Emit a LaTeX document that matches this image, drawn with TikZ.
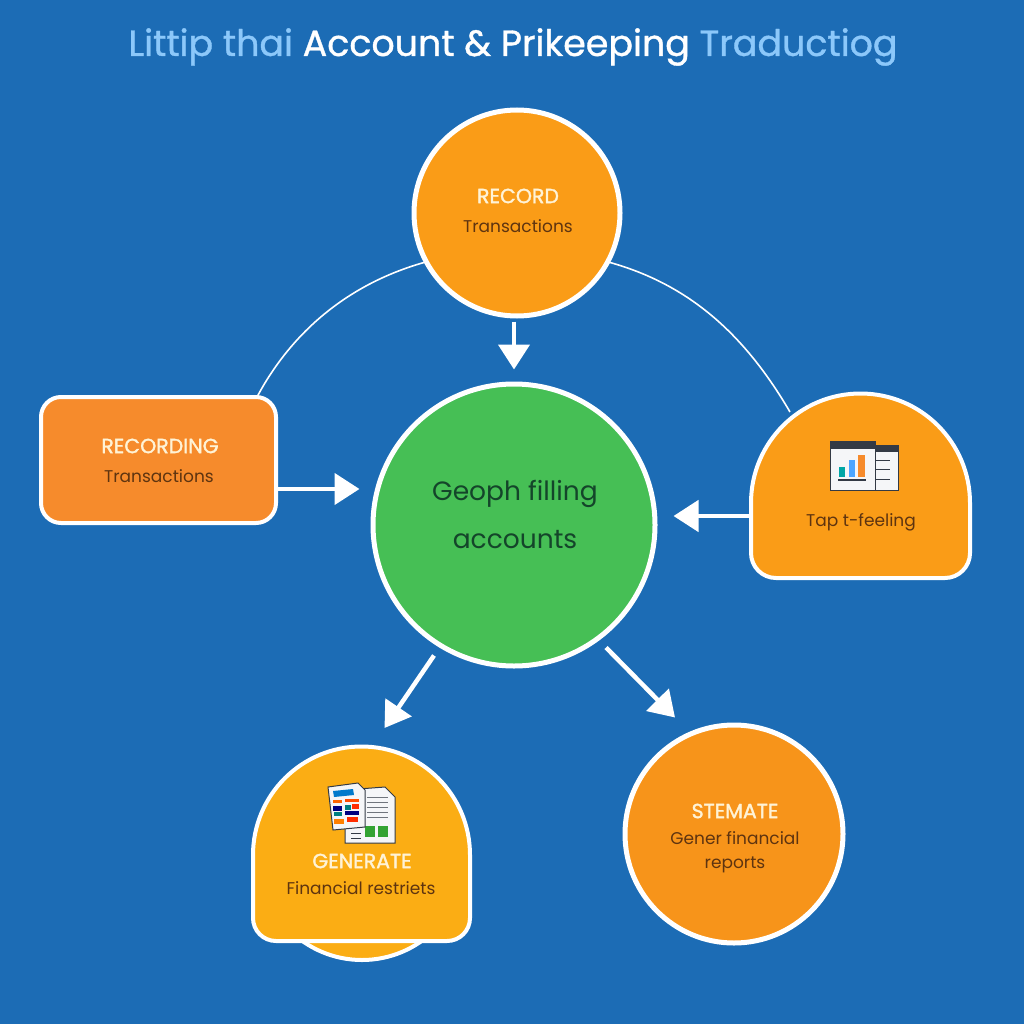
\documentclass[tikz,border=0pt]{standalone}
\usepackage{fontspec}
\setmainfont{Poppins}
\newfontfamily\boldish[FakeBold=1.6]{Poppins}
\newfontfamily\halfbold[FakeBold=1]{Poppins}
\usetikzlibrary{arrows.meta,calc}
\definecolor{bgblue}{HTML}{1C6CB5}
\definecolor{titlelight}{HTML}{8CC8FA}
\definecolor{orangeA}{HTML}{FA9C17}
\definecolor{orangeB}{HTML}{F68B2C}
\definecolor{orangeC}{HTML}{F7941A}
\definecolor{amber}{HTML}{FBAD14}
\definecolor{hubgreen}{HTML}{46BF55}
\definecolor{subtext}{HTML}{5E3410}
\definecolor{headtext}{HTML}{FFF3D6}
\definecolor{hubtext}{HTML}{14452A}
\definecolor{iconDark}{HTML}{333A45}
\definecolor{iconPaper}{HTML}{F5F6F8}
\tikzset{
  ring/.style={circle,draw=white,line width=5pt,inner sep=0pt},
  shapeline/.style={draw=white,line width=4pt,line join=round},
  thin link/.style={draw=white,line width=1.6pt},
  flow/.style={draw=white,line width=4.5pt,-{Triangle[width=31pt,length=25pt]}},
  ghost/.style={inner sep=0pt,outer sep=0pt,draw=none},
  head/.style={font=\boldish\fontsize{20.5}{22}\selectfont,text=headtext},
  sub/.style={font=\fontsize{17}{20}\selectfont,text=subtext,align=center},
}
\begin{document}
\begin{tikzpicture}[x=1pt,y=-1pt]
\useasboundingbox (0,0) rectangle (1024,1024);
\fill[bgblue] (0,0) rectangle (1024,1024);
% title
\node (title) at (513,47) {\halfbold\fontsize{36.4}{44}\selectfont\textcolor{titlelight}{Littip thai} \textcolor{white}{Account \& Prikeeping} \textcolor{titlelight}{Traductiog}};
% main nodes
\node[ring,fill=orangeA,minimum size=206pt] (record) at (517,213) {};
\node[ring,fill=hubgreen,minimum size=282pt] (hub) at (514,525) {};
\node[ghost,minimum width=235pt,minimum height=126pt] (left) at (158.5,460) {};
\node[ghost,minimum width=219pt,minimum height=185pt] (tap) at (860.5,485.5) {};
\node[ghost,minimum width=217pt,minimum height=213pt] (gen) at (361.5,853.5) {};
\node[ring,fill=orangeC,minimum size=218pt] (state) at (734,834) {};
\draw[thin link] (record.208) .. controls (345,285) and (290,335) .. ($(left.north east)+(-19,0)$);
\draw[thin link] (record.-28) .. controls (690,285) and (745,335) .. ($(tap.north west)+(39,19)$);
% shapes
\draw[shapeline,fill=orangeB,rounded corners=20pt] (left.north west) rectangle (left.south east);
\draw[shapeline,fill=orangeA] (751,503) arc[start angle=180,end angle=360,radius=109.5] -- (970,553) arc[start angle=0,end angle=90,radius=25] -- (776,578) arc[start angle=90,end angle=180,radius=25] -- cycle;
\draw[shapeline,fill=amber] (362,857) circle[radius=103];
\draw[shapeline,fill=amber] (253,855) arc[start angle=180,end angle=360,radius=108.5] -- (470,918) arc[start angle=0,end angle=90,radius=23] -- (276,941) arc[start angle=90,end angle=180,radius=23] -- cycle;
% arrows
\draw[flow] (record.south) ++(-3,3) -- ($(hub.north)+(0,-12)$);
\draw[flow] ($(left.east)+(1,29)$) -- ($(hub.west)+(-11,-36)$);
\draw[flow] ($(tap.west)+(-1,30.5)$) -- ($(hub.east)+(16,-9)$);
\draw[flow] ($(hub.south)+(-80,-13)$) -- ($(gen.north)+(23,-19)$);
\draw[flow] ($(hub.south)+(92,-21)$) -- ($(state.north)+(-59,-5)$);
% texts
\node[head] (recordhead) at (518,196) {RECORD};
\node[sub] (recordsub) at (518,226) {Transactions};
\node[head] (lefthead) at (160,446) {RECORDING};
\node[sub] (leftsub) at (159,476) {Transactions};
\node[font=\fontsize{26.5}{48}\selectfont,text=hubtext,align=center] (hubtxt) at (515,514) {Geoph filling\\accounts};
\node[sub] (tapsub) at (861,522) {Tap t-feeling};
\node[head] (genhead) at (362,861) {GENERATE};
\node[sub] (gensub) at (361,888) {Financial restriets};
\node[head] (statehead) at (735,811) {STEMATE};
\node[sub,font=\fontsize{17}{24}\selectfont] (statesub) at (735,852) {Gener financial\\reports};
% icon: report windows
\draw[iconDark,fill=iconPaper,line width=1pt] (872,445) rectangle (898,490);
\fill[iconDark] (872,445) rectangle (898,452);
\foreach \yy in {460,469,479} \draw[iconDark,line width=1pt] (876,\yy) -- (890,\yy);
\draw[iconDark,fill=iconPaper,line width=1pt] (830,441) rectangle (875,490);
\fill[iconDark] (830,441) rectangle (875,449);
\fill[teal!70!cyan] (839,467) rectangle (845,477);
\fill[blue!50!cyan!70!white] (849,460) rectangle (855,477);
\fill[orangeB] (858,455) rectangle (865,477);
\draw[iconDark,line width=1.2pt] (838,480) -- (866,480);
% icon: documents
\draw[iconDark,fill=iconPaper,line width=1pt] (345,790) -- (385,787) -- (395,797) -- (395,843) -- (345,843) -- cycle;
\foreach \yy in {797,802,807,812,817} \draw[iconDark!70,line width=.8pt] (367,\yy) -- (388,\yy);
\fill[green!55!black!80] (365,826) rectangle (375,837);
\fill[green!55!black!80] (378,826) rectangle (388,837);
\draw[iconDark,line width=.8pt] (351,833) -- (361,833) (351,838) -- (361,838);
\draw[iconDark,fill=iconPaper,line width=1pt] (328,787) -- (358,783) -- (365,790) -- (365,827) -- (333,830) -- cycle;
\fill[blue!40!cyan!80!black] (333,791) -- (353,789) -- (354,795) -- (334,797) -- cycle;
\fill[red!65!orange] (347,817) rectangle (358,822);
\fill[orange] (334,819) rectangle (344,824);
\fill[blue!50!black] (333,806) rectangle (342,811);
\fill[teal] (345,805) rectangle (351,810);
\fill[red!65!orange] (352,804) rectangle (359,809);
\fill[orange!80!red] (333,800) rectangle (342,803);
\fill[red!40!orange] (345,799) rectangle (359,802);
\fill[teal] (334,812) rectangle (342,816);
\fill[blue!50!black] (345,811) rectangle (359,815);
\end{tikzpicture}
\end{document}
